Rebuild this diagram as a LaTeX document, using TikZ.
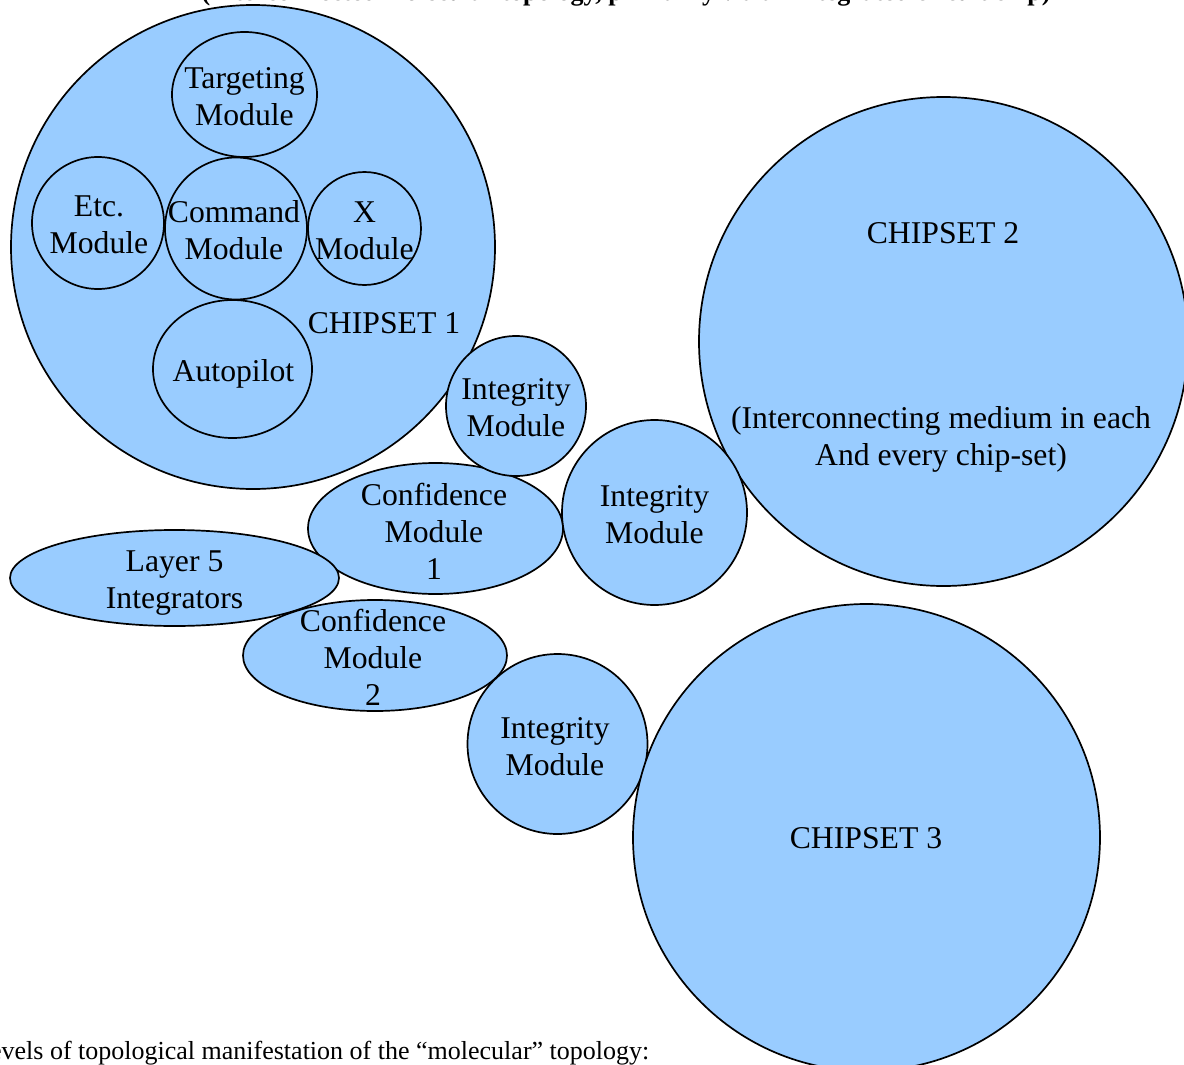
\documentclass[tikz,border=0pt]{standalone}
\usepackage{fontspec}
\setmainfont{Liberation Serif}
\usetikzlibrary{shapes.geometric}
\definecolor{chipblue}{RGB}{153,204,255}
\newcommand{\dfont}{\fontsize{31.7}{37}\selectfont}
\newcommand{\nfont}{\fontsize{26}{30}\selectfont}
\tikzset{
  blob/.style={draw=black, line width=1.7pt, fill=chipblue, inner sep=0pt, outer sep=0pt},
  circ/.style={blob, circle, minimum size=#1},
  ell/.style 2 args={blob, ellipse, minimum width=#1, minimum height=#2},
  lbl/.style={font=\dfont, align=center, inner sep=0pt, text=black},
  note/.style={font=\nfont, inner sep=0pt, text=black}
}
\begin{document}
\begin{tikzpicture}[x=1pt,y=-1pt]
\clip (0,0) rectangle (1184,1065);
% shapes
\node[circ=484pt] (cs1) at (253,247) {};
\node[ell={145pt}{125pt}] (tgt) at (244.5,94.5) {};
\node[circ=132pt] (etc) at (98,223) {};
\node[circ=142pt] (cmd) at (236,228.5) {};
\node[circ=113pt] (xm) at (364.5,228.5) {};
\node[ell={159pt}{138pt}] (auto) at (232.5,369) {};
\node[circ=489pt] (cs2) at (943.5,341.5) {};
\node[ell={255pt}{131pt}] (conf1) at (435.5,528.5) {};
\node[ell={264pt}{111pt}] (conf2) at (375,655.5) {};
\node[ell={329pt}{96pt}] (lay5) at (174.5,578) {};
\node[circ=140pt] (int1) at (516,406) {};
\node[circ=185pt] (int2) at (654.5,512.5) {};
\node[circ=180pt] (int3) at (557.5,744) {};
\node[circ=467pt] (cs3) at (866.5,837.5) {};
% labels
\node[lbl] (ltgt) at (244.5,96.5) {Targeting\\Module};
\node[lbl] (letc) at (99,225) {Etc.\\Module};
\node[lbl] (lcmd) at (234,230.5) {Command\\Module};
\node[lbl] (lxm) at (364.5,230.5) {X\\Module};
\node[lbl] (lauto) at (233.5,373.6) {Autopilot};
\node[lbl] (lcs1) at (384,323) {CHIPSET 1};
\node[lbl] (lcs2) at (943,233) {CHIPSET 2};
\node[lbl] (lmed) at (941,439) {(Interconnecting medium in each\\And every chip-set)};
\node[lbl] (lint1) at (516,408) {Integrity\\Module};
\node[lbl] (lint2) at (654.5,515) {Integrity\\Module};
\node[lbl] (lconf1) at (434,531) {Confidence\\Module\\1};
\node[lbl] (llay5) at (174.5,583) {Layer 5\\Integrators};
\node[lbl] (lconf2) at (373,657) {Confidence\\Module\\2};
\node[lbl] (lint3) at (555,747) {Integrity\\Module};
\node[lbl] (lcs3) at (866,838) {CHIPSET 3};
% cut-off page texts
\node[note, font=\nfont\bfseries, anchor=base] (title) at (626,1) {(Interconnected molecular topology, primarily via an integrated circuit chip)};
\node[note, anchor=base west] (levels) at (-26,1059) {Levels of topological manifestation of the “molecular” topology:};
\end{tikzpicture}
\end{document}
